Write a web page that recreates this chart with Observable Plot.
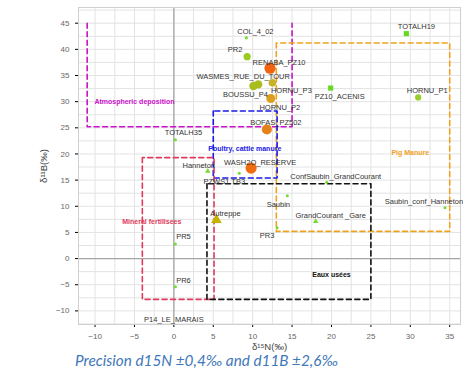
<!DOCTYPE html>
<html><head><meta charset="utf-8">
<script src="https://cdn.jsdelivr.net/npm/d3@7"></script>
<script src="https://cdn.jsdelivr.net/npm/@observablehq/plot@0.6"></script>
<style>
body{margin:0;background:#fff;}
#cap{font-family:Lato,"Open Sans",sans-serif;font-style:italic;color:#3F78B8;font-size:15.3px;line-height:15px;margin-left:75px;margin-top:1px;}
</style></head><body>
<div id="chart"></div>
<div id="cap">Precision d15N ±0,4‰ and d11B ±2,6‰</div>
<script>
// ---- data ----
const names = ["COL_4_02","PR2","RENABA_PZ10","WASMES_RUE_DU_TOUR","BOUSSU_P4","HORNU_P3","HORNU_P2","BOFAS_PZ502","WASH2O_RESERVE","PZWS1 TB3","Hanneton","Autreppe","PR5","PR6","P14_LE_MARAIS","TOTALH35","TOTALH19","PZ10_ACENIS","HORNU_P1","ConfSaubin_GrandCourant","Saubin","GrandCourant _Gare","PR3","Saubin_conf_Hanneton"];
const d15N = [9.2, 9.3, 12.2, 10.7, 10.1, 12.5, 12.3, 11.8, 9.8, 8.3, 4.3, 5.4, 0.2, 0.2, 0.0, 0.2, 29.5, 19.9, 31.0, 19.4, 14.4, 18.0, 13.1, 34.4];
const d11B = [42.2, 38.6, 36.4, 33.3, 33.0, 33.6, 30.6, 24.7, 17.3, 16.3, 16.7, 7.4, 2.8, -5.4, -11.7, 22.7, 43.0, 32.6, 30.8, 14.6, 12.0, 7.1, 5.9, 9.7];
const sampleType = ["circle","circle","circle","circle","circle","circle","circle","circle","circle","circle","triangle","triangle","circle","circle","none","circle","square","square","circle","circle","circle","triangle","circle","circle"];

const sourceNames = ["Atmospheric deposition","Pig Manure","Poultry, cattle manure","Mineral fertilisees","Eaux usées"];
const sourceN1 = [-11, 13, 5, -4, 4.2];
const sourceN2 = [15, 35, 13.1, 5.1, 25];
const sourceB1 = [25.2, 5.2, 15.4, -7.8, -7.8];
const sourceB2 = [45, 41.2, 28.2, 19.3, 14.3];

const xTicks = [-10,-5,0,5,10,15,20,25,30,35];
const yTicks = [-10,-5,0,5,10,15,20,25,30,35,40,45];

// ---- styles / layout ----
const G = "#74DB2E";
const pointStyle = {
  "COL_4_02":[1.6,G],"PR2":[3.6,"#9ACB22"],"RENABA_PZ10":[5.6,"#F2630F"],
  "WASMES_RUE_DU_TOUR":[4.2,"#A9BE1E"],"BOUSSU_P4":[4.2,"#A9BE1E"],"HORNU_P3":[3.8,"#C9B226"],
  "HORNU_P2":[4.5,"#DC9E1E"],"BOFAS_PZ502":[5,"#E5811A"],"WASH2O_RESERVE":[5.6,"#F06C10"],
  "PZWS1 TB3":[1.5,G],"Hanneton":[2,G],"Autreppe":[4,"#C8B200"],"PR5":[1.5,G],"PR6":[1.5,G],
  "P14_LE_MARAIS":[0,G],"TOTALH35":[1.5,G],"TOTALH19":[2.9,"#62DA1E"],"PZ10_ACENIS":[2.9,"#62DA1E"],
  "HORNU_P1":[3.1,"#96CF2C"],"ConfSaubin_GrandCourant":[1.5,G],"Saubin":[1.5,G],
  "GrandCourant _Gare":[2,G],"PR3":[1.5,G],"Saubin_conf_Hanneton":[1.5,G]
};
const labelOffset = {
  "COL_4_02":[9,-6],"PR2":[-12,-7],"RENABA_PZ10":[9,-6],"WASMES_RUE_DU_TOUR":[-15,-8],
  "BOUSSU_P4":[-8,9],"HORNU_P3":[19,8],"HORNU_P2":[9,9],"BOFAS_PZ502":[9,-7],
  "WASH2O_RESERVE":[9,-5],"PZWS1 TB3":[-15,8],"Hanneton":[-9,-6],"Autreppe":[9,-6],
  "PR5":[8,-7],"PR6":[8,-6],"P14_LE_MARAIS":[0,0],"TOTALH35":[8,-7],"TOTALH19":[10,-7],
  "PZ10_ACENIS":[9,9],"HORNU_P1":[9,-7],"ConfSaubin_GrandCourant":[9,-6],"Saubin":[-9,9],
  "GrandCourant _Gare":[15,-6],"PR3":[-10,8],"Saubin_conf_Hanneton":[-21,-6]
};
const sourceColors = ["#CC11CC","#F0A21E","#1A1AE6","#DE3A5C","#111111"];
const sourceLabelPos = [[-5,30],[30,20.2],[9,21],[-2.8,7.1],[20,-3]];

const pts = names.map((n,i)=>({name:n, x:d15N[i], y:d11B[i], shape:sampleType[i], r:pointStyle[n][0], c:pointStyle[n][1]}));
const boxes = sourceNames.map((n,i)=>({name:n, x1:sourceN1[i], x2:sourceN2[i], y1:sourceB1[i], y2:sourceB2[i], c:sourceColors[i], lx:sourceLabelPos[i][0], ly:sourceLabelPos[i][1]}));

const gridX = d3.range(-10, 36.1, 2.5);
const gridY = d3.range(-12.5, 48.1, 2.5);
const font = "Liberation Sans, Arial, sans-serif";

const marks = [
  Plot.gridX(gridX, {stroke:"#e3e3e3", strokeOpacity:1}),
  Plot.gridY(gridY, {stroke:"#e3e3e3", strokeOpacity:1}),
  Plot.ruleX([0], {stroke:"#a6a6a6", strokeWidth:1.3}),
  Plot.ruleY([0], {stroke:"#a6a6a6", strokeWidth:1.3}),
  Plot.frame({stroke:"#cfcfcf"}),
];
// source boxes (atmospheric deposition open at top)
boxes.forEach((b,i)=>{
  const path = i===0
    ? [[b.x1,b.y2],[b.x1,b.y1],[b.x2,b.y1],[b.x2,b.y2]]
    : [[b.x1,b.y2],[b.x1,b.y1],[b.x2,b.y1],[b.x2,b.y2],[b.x1,b.y2]];
  marks.push(Plot.line(path, {x:d=>d[0], y:d=>d[1], stroke:b.c, strokeWidth:1.6, strokeDasharray:"5,3.5"}));
  marks.push(Plot.text([b], {x:"lx", y:"ly", text:"name", fill:b.c, fontSize:7, fontWeight:"bold", fontFamily:font}));
});
// points
["circle","triangle","square"].forEach(s=>{
  marks.push(Plot.dot(pts.filter(p=>p.shape===s), {x:"x", y:"y", r:"r", fill:"c", symbol:s, stroke:"none"}));
});
// labels
pts.forEach(p=>{
  const o = labelOffset[p.name];
  marks.push(Plot.text([p], {x:"x", y:"y", text:"name", dx:o[0], dy:o[1], fill:"#333", fontSize:7.5, fontFamily:font}));
});

const chart = Plot.plot({
  width:463, height:352,
  marginLeft:78, marginRight:3, marginTop:7, marginBottom:28,
  style:{fontFamily:font, background:"#fff"},
  x:{domain:[-12.1,36.37], ticks:xTicks, tickSize:3, label:"δ¹⁵N(‰)", labelArrow:"none", labelAnchor:"center", labelOffset:25},
  y:{domain:[-12.6,48.0], ticks:yTicks, tickSize:3, label:"δ¹¹B(‰)", labelArrow:"none", labelAnchor:"center", labelOffset:38},
  r:{type:"identity"},
  color:{type:"identity"},
  marks
});
chart.querySelectorAll('[aria-label="x-axis tick label"] text, [aria-label="y-axis tick label"] text').forEach(t=>{t.setAttribute("fill","#666");t.style.fontSize="8px";});
chart.querySelectorAll('[aria-label="x-axis label"] text, [aria-label="y-axis label"] text').forEach(t=>{t.setAttribute("fill","#444");t.style.fontSize="9.5px";});
document.getElementById("chart").appendChild(chart);
</script>
</body></html>
